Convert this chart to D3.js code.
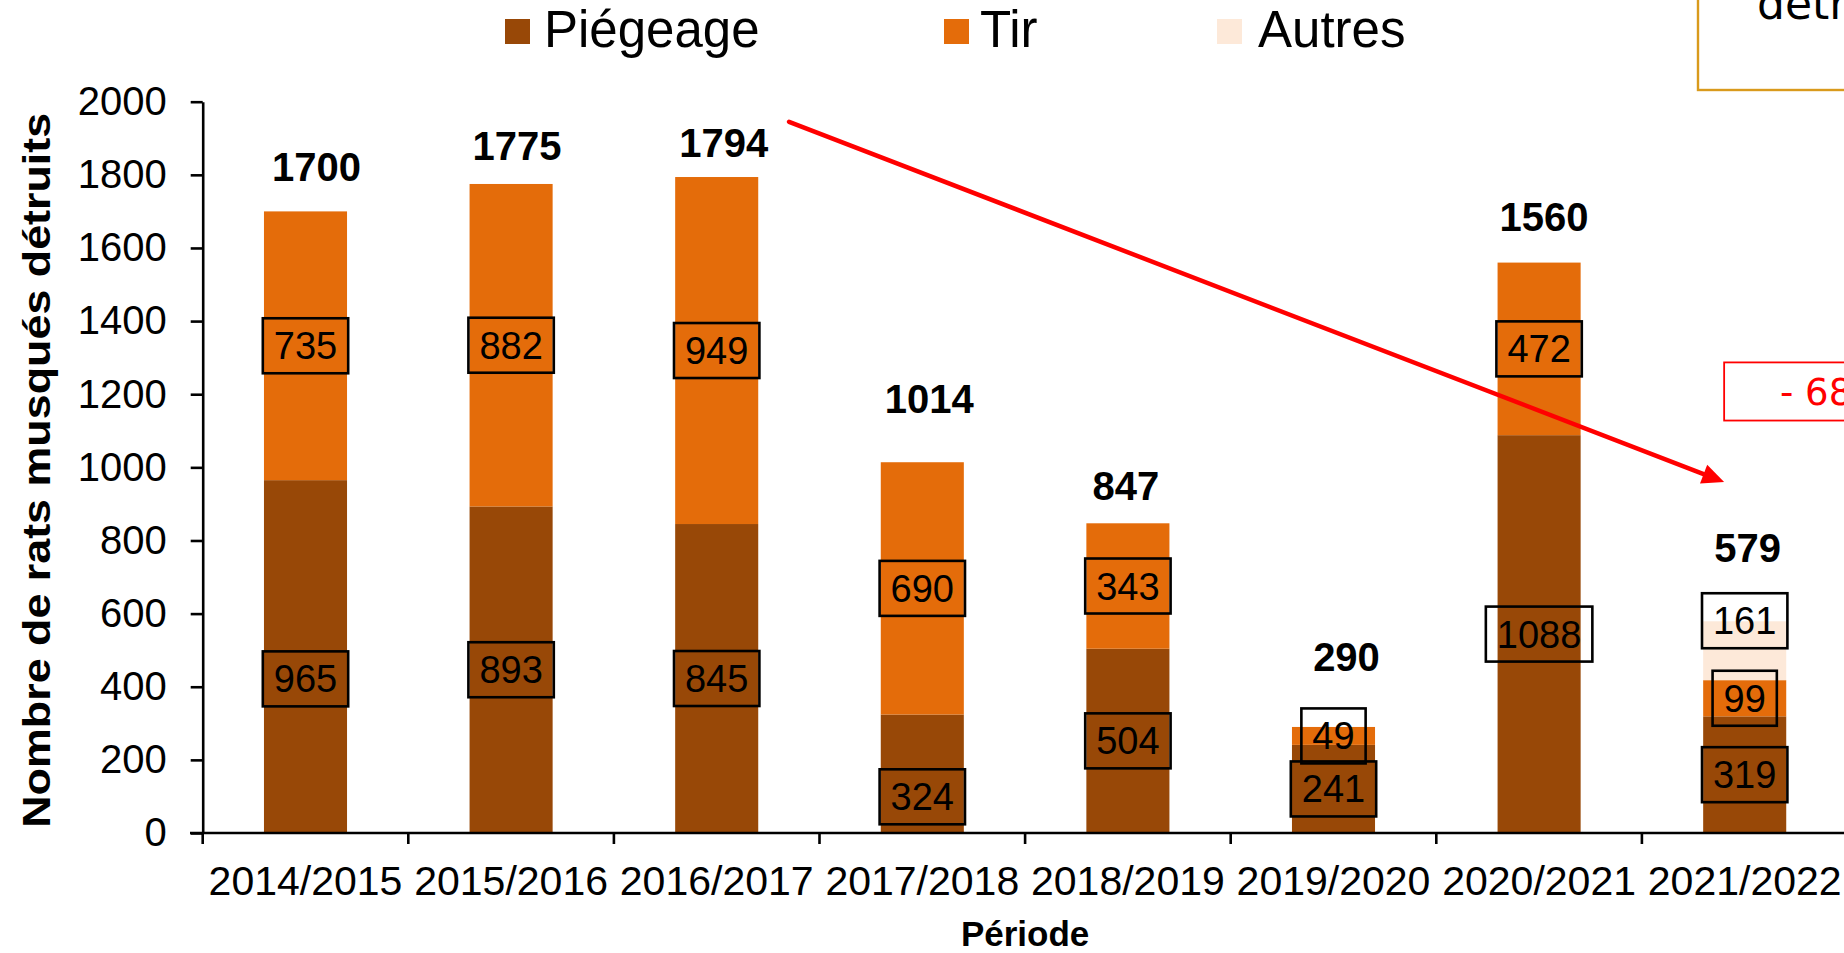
<!DOCTYPE html>
<html>
<head>
<meta charset="utf-8">
<script src="https://cdn.jsdelivr.net/npm/d3@7"></script>
<style>
  html, body { margin: 0; padding: 0; background: #ffffff; }
  svg { display: block; }
</style>
</head>
<body>
<svg id="chart" width="1844" height="953"></svg>
<script>
// ---------- DATA ----------
const categories = ["2014/2015", "2015/2016", "2016/2017", "2017/2018", "2018/2019", "2019/2020", "2020/2021", "2021/2022"];
const piegeage = [965, 893, 845, 324, 504, 241, 1088, 319];
const tir      = [735, 882, 949, 690, 343, 49, 472, 99];
const autres   = [0, 0, 0, 0, 0, 0, 0, 161];
const seriesNames = ["Piégeage", "Tir", "Autres"];
const yTicks = [0, 200, 400, 600, 800, 1000, 1200, 1400, 1600, 1800, 2000];
const yTitle = "Nombre de rats musqués détruits";
const xTitle = "Période";
const trendText = "- 68";
const cornerText = "détr";

// ---------- LAYOUT / STYLE ----------
const W = 1844, H = 953;
const plot = { left: 202.7, top: 101.7, bottom: 833, band: 205.6 };
const colors = { "Piégeage": "#984807", "Tir": "#E46C0A", "Autres": "#FDE9D9" };
const font = "'Liberation Sans', Arial, sans-serif";
// label anchor shifts (value units) from segment middle
const labelShift = {
  "Piégeage": [-61, 0, 0, -63, 0, 0, 0, 0],
  "Tir":      [0, 0, 0, 0, 0, 0, 0, 0],
  "Autres":   [0, 0, 0, 0, 0, 0, 0, 82]
};
const totalLift = [30, 24, 20, 49, 23, 56, 32, 59];   // px above bar top (baseline)
const totalDx   = [11, 6, 7, 7, -2, 13, 5, 3];         // px
const legendItems = [
  { name: "Piégeage", sq: 505, tx: 544 },
  { name: "Tir", sq: 944, tx: 980 },
  { name: "Autres", sq: 1217, tx: 1258 }
];

const svg = d3.select("#chart");
svg.append("rect").attr("width", W).attr("height", H).attr("fill", "#fff");

const x = d3.scaleBand().domain(categories)
  .range([plot.left, plot.left + plot.band * categories.length]).padding(0);
const y = d3.scaleLinear().domain([0, 2000]).range([plot.bottom, plot.top]);
const bw = x.bandwidth();
const barW = bw * 0.404;

const rows = categories.map((c, i) => ({ cat: c, "Piégeage": piegeage[i], "Tir": tir[i], "Autres": autres[i] }));
const stacked = d3.stack().keys(seriesNames)(rows);

// bars
const g = svg.append("g");
stacked.forEach(s => {
  g.selectAll(null).data(s).join("rect")
    .attr("x", d => x(d.data.cat) + (bw - barW) / 2)
    .attr("width", barW)
    .attr("y", d => y(d[1]))
    .attr("height", d => y(d[0]) - y(d[1]))
    .attr("fill", colors[s.key]);
});

// y axis
const yAxis = d3.axisLeft(y).tickValues(yTicks).tickFormat(d3.format("d"))
  .tickSize(12).tickSizeOuter(0).tickPadding(24);
const ya = svg.append("g").attr("transform", `translate(${plot.left},0)`).call(yAxis);
ya.select(".domain").attr("stroke", "#000").attr("stroke-width", 2.6);
ya.selectAll(".tick line").attr("stroke", "#000").attr("stroke-width", 2.6);
ya.selectAll(".tick text").attr("font-family", font).attr("font-size", 40).attr("fill", "#000");

// x axis
svg.append("line").attr("x1", 190).attr("x2", W).attr("y1", plot.bottom).attr("y2", plot.bottom)
  .attr("stroke", "#000").attr("stroke-width", 2.6);
const bounds = categories.map(c => x(c)).concat([x.range()[1]]);
svg.selectAll(null).data(bounds).join("line")
  .attr("x1", d => d).attr("x2", d => d)
  .attr("y1", plot.bottom).attr("y2", plot.bottom + 11)
  .attr("stroke", "#000").attr("stroke-width", 2.6);
svg.selectAll(null).data(categories).join("text")
  .attr("x", d => x(d) + bw / 2).attr("y", 895)
  .attr("text-anchor", "middle").attr("font-family", font).attr("font-size", 41)
  .attr("fill", "#000").text(d => d);

// axis titles
svg.append("text")
  .attr("transform", `translate(50,${(plot.top + plot.bottom) / 2 + 3}) rotate(-90)`)
  .attr("text-anchor", "middle").attr("font-family", font).attr("font-weight", "bold")
  .attr("font-size", 39).attr("textLength", 715).attr("lengthAdjust", "spacingAndGlyphs")
  .text(yTitle);
svg.append("text")
  .attr("x", x.range()[0] + (x.range()[1] - x.range()[0]) / 2).attr("y", 946)
  .attr("text-anchor", "middle").attr("font-family", font).attr("font-weight", "bold")
  .attr("font-size", 35)
  .text(xTitle);

// segment labels with boxes
stacked.forEach(s => {
  s.forEach((d, i) => {
    const v = d[1] - d[0];
    if (!v) return;
    const cx = x(d.data.cat) + bw / 2;
    const cy = y((d[0] + d[1]) / 2 + labelShift[s.key][i]);
    const lbl = String(v);
    const tw = lbl.length * 0.556 * 38;
    const bwid = tw + 22, bh = 55;
    svg.append("rect").attr("x", cx - bwid / 2).attr("y", cy - bh / 2)
      .attr("width", bwid).attr("height", bh)
      .attr("fill", "none").attr("stroke", "#000").attr("stroke-width", 2.6);
    svg.append("text").attr("x", cx).attr("y", cy + 13.5)
      .attr("text-anchor", "middle").attr("font-family", font).attr("font-size", 38)
      .attr("fill", "#000").text(lbl);
  });
});

// totals
const totals = categories.map((c, i) => piegeage[i] + tir[i] + autres[i]);
svg.selectAll(null).data(totals).join("text")
  .attr("x", (d, i) => x(categories[i]) + bw / 2 + totalDx[i])
  .attr("y", (d, i) => y(d) - totalLift[i])
  .attr("text-anchor", "middle").attr("font-family", font).attr("font-weight", "bold")
  .attr("font-size", 40).attr("fill", "#000").text(d => d);

// legend
legendItems.forEach(it => {
  svg.append("rect").attr("x", it.sq).attr("y", 19).attr("width", 25).attr("height", 25)
    .attr("fill", colors[it.name]);
  svg.append("text").attr("x", it.tx).attr("y", 46.5)
    .attr("font-family", font).attr("font-size", 51).attr("fill", "#000").text(it.name);
});

// trend arrow (positions in band / value units)
const bx = b => plot.left + b * bw;
const ax1 = bx(2.852), ay1 = y(1945), ax2 = bx(7.40), ay2 = y(960);
const ang = Math.atan2(ay2 - ay1, ax2 - ax1);
const headL = 22, headW = 10;
const bxh = ax2 - headL * Math.cos(ang), byh = ay2 - headL * Math.sin(ang);
svg.append("line")
  .attr("x1", ax1).attr("y1", ay1).attr("x2", bxh).attr("y2", byh)
  .attr("stroke", "#ff0000").attr("stroke-width", 4.5).attr("stroke-linecap", "round");
svg.append("path")
  .attr("d", `M${ax2},${ay2} L${bxh + headW * Math.sin(ang)},${byh - headW * Math.cos(ang)} L${bxh - headW * Math.sin(ang)},${byh + headW * Math.cos(ang)} Z`)
  .attr("fill", "#ff0000");

// red annotation box
svg.append("rect").attr("x", bx(7.40)).attr("y", y(1287)).attr("width", 200).attr("height", y(1128) - y(1287))
  .attr("fill", "#fff").attr("stroke", "#ff0000").attr("stroke-width", 1.8);
svg.append("text").attr("x", 1780).attr("y", 405)
  .attr("font-family", "'DejaVu Sans', sans-serif").attr("font-size", 37).attr("fill", "#ff0000")
  .text(trendText);

// corner box (cropped)
svg.append("rect").attr("x", 1698).attr("y", -10).attr("width", 200).attr("height", 100)
  .attr("fill", "#fff").attr("stroke", "#D99A1C").attr("stroke-width", 2.4);
svg.append("text").attr("x", 1757).attr("y", 19)
  .attr("font-family", "'DejaVu Sans', sans-serif").attr("font-size", 44)
  .attr("fill", "#000")
  .text(cornerText);
</script>
</body>
</html>
